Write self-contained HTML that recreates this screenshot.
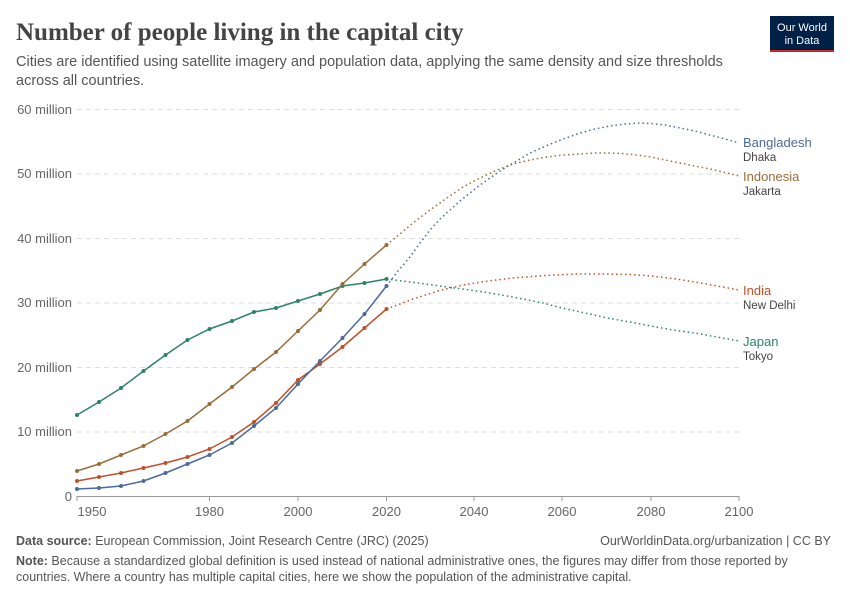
<!DOCTYPE html>
<html><head><meta charset="utf-8"><style>
body{margin:0;background:#fff;font-family:"Liberation Sans",sans-serif;}
</style></head><body>
<svg width="850" height="600" xmlns="http://www.w3.org/2000/svg" font-family="Liberation Sans, sans-serif">
<rect width="850" height="600" fill="#fff"/>
<text x="16" y="40" font-family="Liberation Serif, serif" font-size="25" font-weight="bold" fill="#444">Number of people living in the capital city</text>
<text x="16" y="66" font-size="14.5" fill="#555">Cities are identified using satellite imagery and population data, applying the same density and size thresholds</text>
<text x="16" y="85" font-size="14.5" fill="#555">across all countries.</text>
<rect x="770" y="16" width="64" height="36" fill="#002147"/>
<rect x="770" y="50" width="64" height="2" fill="#ce261e"/>
<text x="802" y="31" font-size="11" fill="#fff" text-anchor="middle">Our World</text>
<text x="802" y="44" font-size="11" fill="#fff" text-anchor="middle">in Data</text>
<g stroke="#ddd" stroke-dasharray="5,4">
<line x1="77" x2="739" y1="109.5" y2="109.5"/><line x1="77" x2="739" y1="174" y2="174"/><line x1="77" x2="739" y1="238.5" y2="238.5"/><line x1="77" x2="739" y1="303" y2="303"/><line x1="77" x2="739" y1="367.5" y2="367.5"/><line x1="77" x2="739" y1="432" y2="432"/>
</g>
<line x1="77" x2="739" y1="496.5" y2="496.5" stroke="#999"/>
<g font-size="13" fill="#666" text-anchor="end">
<text x="72" y="114">60 million</text><text x="72" y="178">50 million</text><text x="72" y="243">40 million</text><text x="72" y="307">30 million</text><text x="72" y="372">20 million</text><text x="72" y="436">10 million</text><text x="72" y="501">0</text>
</g>
<g stroke="#999"><line x1="77" x2="77" y1="496" y2="501"/><line x1="209.5" x2="209.5" y1="496" y2="501"/><line x1="298" x2="298" y1="496" y2="501"/><line x1="386.5" x2="386.5" y1="496" y2="501"/><line x1="474" x2="474" y1="496" y2="501"/><line x1="562" x2="562" y1="496" y2="501"/><line x1="651" x2="651" y1="496" y2="501"/><line x1="739" x2="739" y1="496" y2="501"/></g>
<g font-size="13" fill="#666" text-anchor="middle">
<text x="92" y="516">1950</text><text x="209.5" y="516">1980</text><text x="298" y="516">2000</text><text x="386.5" y="516">2020</text><text x="474" y="516">2040</text><text x="562" y="516">2060</text><text x="651" y="516">2080</text><text x="739" y="516">2100</text>
</g>
<g fill="none" stroke-width="1.5" stroke-dasharray="1.5,3" stroke-linejoin="round">
<polyline stroke="#4c6a9c" points="386.5,286 398,271 410,257 420,243 430,230 440,219 450,210 460,201 470,193 480,185 490,178 500,171 510,165 520,159 530,153 541,148 553,143 566,138 580,133 595,129 610,126 625,124 640,123 651,123.5 665,125 680,128 695,131 710,135 725,139 739,143"/>
<polyline stroke="#996d39" points="386.5,245 400,234 413,223 430,210 447,198 463,187 480,178 497,170 513,164 530,160 547,157 563,155 580,154 595,153 607,153 622,153.5 637,155 651,157 665,160 680,163 695,166 710,169 725,172.5 739,176"/>
<polyline stroke="#c15028" points="386.5,309 400,304 413,299 438,291 463,285 488,281 513,278 545,275.5 577,274 607,274 630,274.5 651,276 673,278.5 695,282 717,286 739,290"/>
<polyline stroke="#2c8465" points="386.5,279 418,283 447,287 470,290 490,293 507,296 523,299 543,303 562,308 585,313 607,318 630,322 651,326 673,330 695,333 717,337 739,341"/>
</g>
<g fill="none" stroke-width="1.5">
<polyline stroke="#2c8465" points="77,415 99,402 121,388 143.5,371 165.5,355 187.5,340 209.5,329 232,321 254,312 276,308 298,301 320,294 342.5,286 364.5,283 386.5,279"/>
<polyline stroke="#996d39" points="77,471 99,464 121,455 143.5,446 165.5,434 187.5,421 209.5,404 232,387 254,369 276,352 298,331 320,310 342.5,284 364.5,264 386.5,245"/>
<polyline stroke="#c15028" points="77,481 99,477 121,473 143.5,468 165.5,463 187.5,457 209.5,449 232,437 254,422 276,403 298,380 320,364 342.5,347 364.5,328 386.5,309"/>
<polyline stroke="#4c6a9c" points="77,489 99,488 121,486 143.5,481 165.5,473 187.5,464 209.5,455 232,443 254,426 276,408 298,384 320,361 342.5,338 364.5,314 386.5,286"/>
</g>
<g>
<g fill="#2c8465"><circle cx="77" cy="415" r="2"/><circle cx="99" cy="402" r="2"/><circle cx="121" cy="388" r="2"/><circle cx="143.5" cy="371" r="2"/><circle cx="165.5" cy="355" r="2"/><circle cx="187.5" cy="340" r="2"/><circle cx="209.5" cy="329" r="2"/><circle cx="232" cy="321" r="2"/><circle cx="254" cy="312" r="2"/><circle cx="276" cy="308" r="2"/><circle cx="298" cy="301" r="2"/><circle cx="320" cy="294" r="2"/><circle cx="342.5" cy="286" r="2"/><circle cx="364.5" cy="283" r="2"/><circle cx="386.5" cy="279" r="2"/></g>
<g fill="#996d39"><circle cx="77" cy="471" r="2"/><circle cx="99" cy="464" r="2"/><circle cx="121" cy="455" r="2"/><circle cx="143.5" cy="446" r="2"/><circle cx="165.5" cy="434" r="2"/><circle cx="187.5" cy="421" r="2"/><circle cx="209.5" cy="404" r="2"/><circle cx="232" cy="387" r="2"/><circle cx="254" cy="369" r="2"/><circle cx="276" cy="352" r="2"/><circle cx="298" cy="331" r="2"/><circle cx="320" cy="310" r="2"/><circle cx="342.5" cy="284" r="2"/><circle cx="364.5" cy="264" r="2"/><circle cx="386.5" cy="245" r="2"/></g>
<g fill="#c15028"><circle cx="77" cy="481" r="2"/><circle cx="99" cy="477" r="2"/><circle cx="121" cy="473" r="2"/><circle cx="143.5" cy="468" r="2"/><circle cx="165.5" cy="463" r="2"/><circle cx="187.5" cy="457" r="2"/><circle cx="209.5" cy="449" r="2"/><circle cx="232" cy="437" r="2"/><circle cx="254" cy="422" r="2"/><circle cx="276" cy="403" r="2"/><circle cx="298" cy="380" r="2"/><circle cx="320" cy="364" r="2"/><circle cx="342.5" cy="347" r="2"/><circle cx="364.5" cy="328" r="2"/><circle cx="386.5" cy="309" r="2"/></g>
<g fill="#4c6a9c"><circle cx="77" cy="489" r="2"/><circle cx="99" cy="488" r="2"/><circle cx="121" cy="486" r="2"/><circle cx="143.5" cy="481" r="2"/><circle cx="165.5" cy="473" r="2"/><circle cx="187.5" cy="464" r="2"/><circle cx="209.5" cy="455" r="2"/><circle cx="232" cy="443" r="2"/><circle cx="254" cy="426" r="2"/><circle cx="276" cy="408" r="2"/><circle cx="298" cy="384" r="2"/><circle cx="320" cy="361" r="2"/><circle cx="342.5" cy="338" r="2"/><circle cx="364.5" cy="314" r="2"/><circle cx="386.5" cy="286" r="2"/></g>
</g>
<g font-size="13">
<text x="743" y="147" fill="#4c6a9c">Bangladesh</text><text x="743" y="161" font-size="11.5" fill="#444">Dhaka</text>
<text x="743" y="181" fill="#996d39">Indonesia</text><text x="743" y="195" font-size="11.5" fill="#444">Jakarta</text>
<text x="743" y="295" fill="#c15028">India</text><text x="743" y="309" font-size="11.5" fill="#444">New Delhi</text>
<text x="743" y="346" fill="#2c8465">Japan</text><text x="743" y="360" font-size="11.5" fill="#444">Tokyo</text>
</g>
<text x="16" y="545" font-size="12.5" fill="#555"><tspan font-weight="bold">Data source:</tspan> European Commission, Joint Research Centre (JRC) (2025)</text>
<text x="831" y="545" font-size="12.5" fill="#555" text-anchor="end">OurWorldinData.org/urbanization | CC BY</text>
<text x="16" y="565" font-size="12.5" fill="#555"><tspan font-weight="bold">Note:</tspan> Because a standardized global definition is used instead of national administrative ones, the figures may differ from those reported by</text>
<text x="16" y="581" font-size="12.5" fill="#555">countries. Where a country has multiple capital cities, here we show the population of the administrative capital.</text>
</svg>
</body></html>
